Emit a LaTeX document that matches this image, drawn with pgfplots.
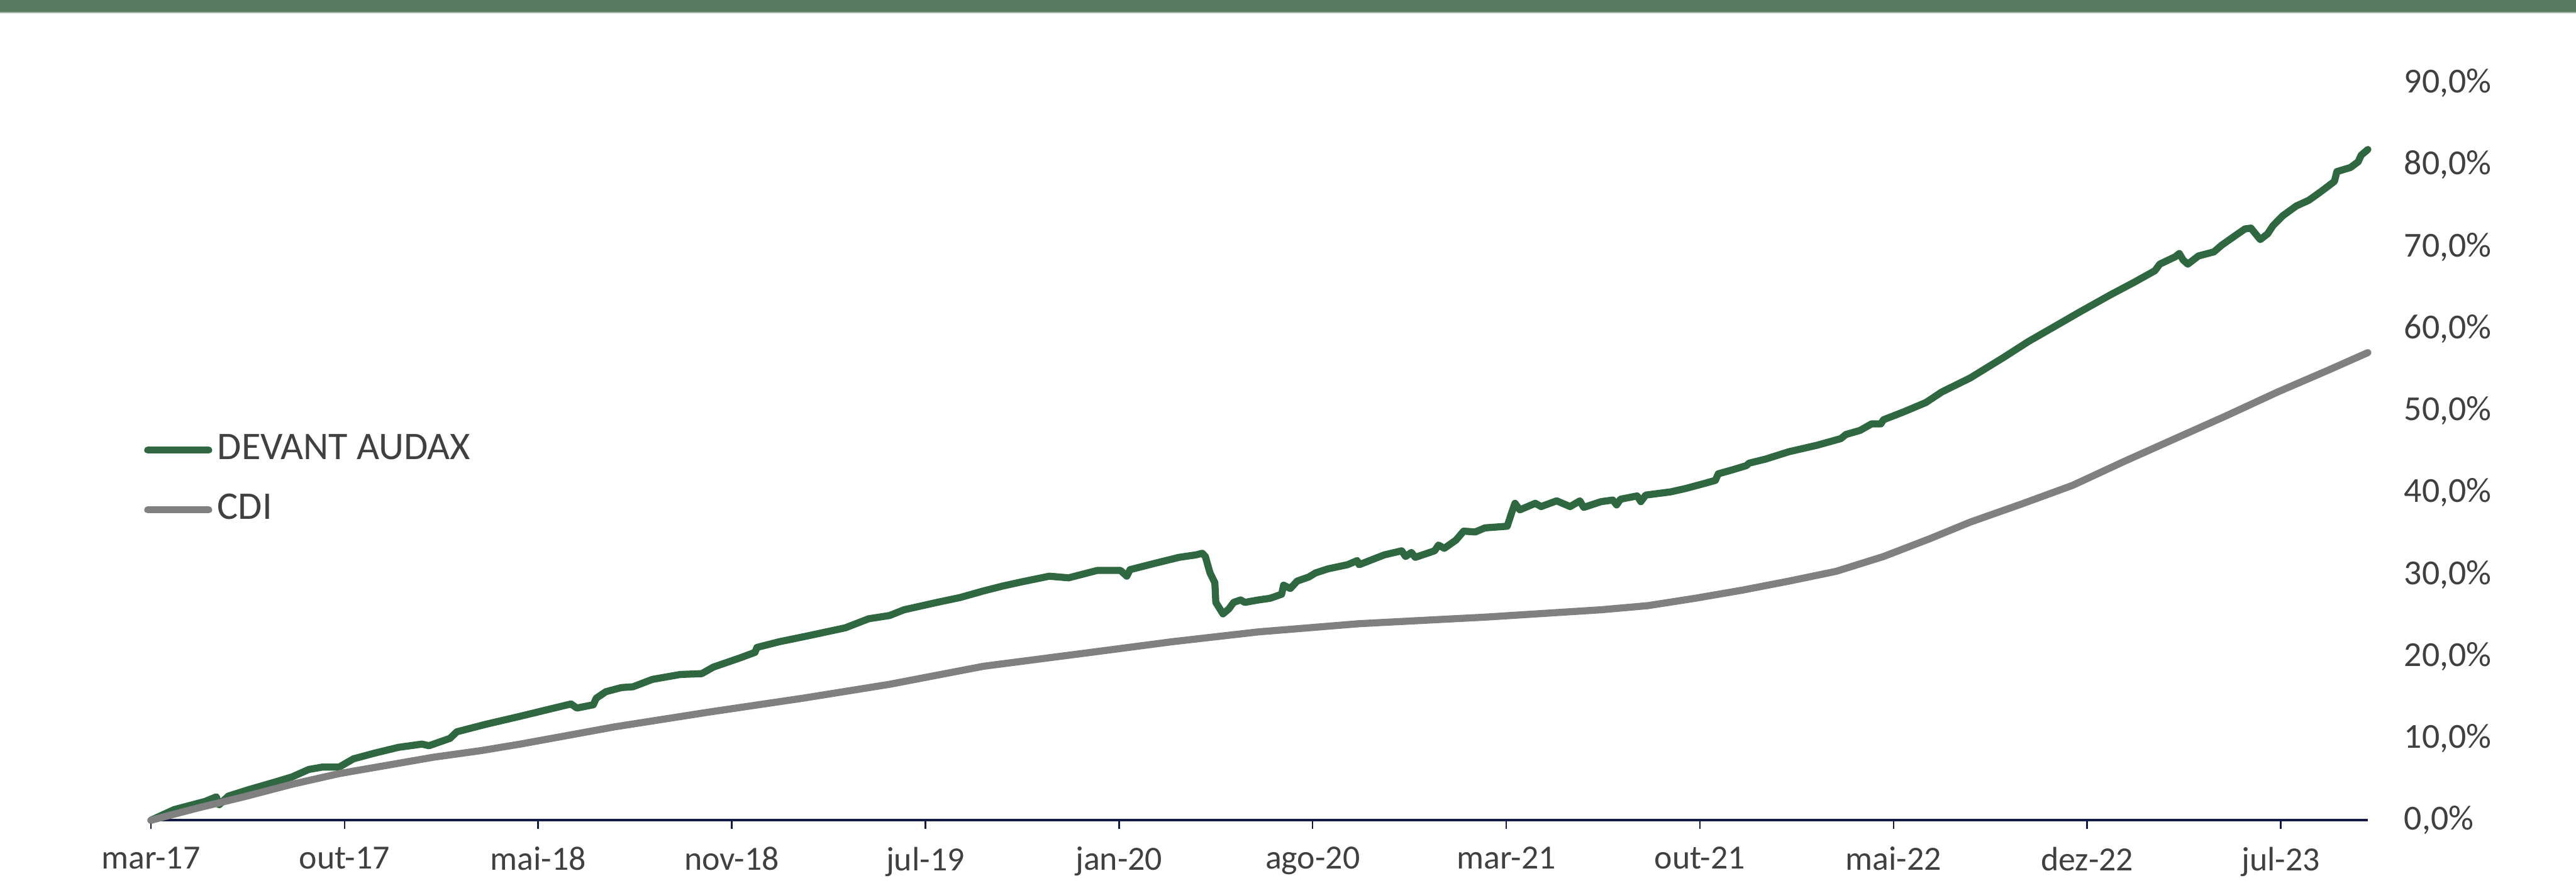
\documentclass[border=0pt]{standalone}
\usepackage{fontspec}
\setmainfont{Carlito}
\usepackage{pgfplots}
\pgfplotsset{compat=1.18}
\definecolor{band}{RGB}{88,122,95}
\definecolor{bandlight}{RGB}{165,185,168}
\definecolor{fundgreen}{RGB}{47,104,64}
\definecolor{cdigray}{RGB}{128,128,128}
\definecolor{axisnavy}{RGB}{18,28,68}
\definecolor{txt}{RGB}{64,64,64}
\begin{document}
\begin{tikzpicture}
\useasboundingbox (0,0) rectangle (836.6pt,288.2pt);
\fill[white] (0,0) rectangle (836.6pt,288.2pt);
\fill[band] (0,284.4pt) rectangle (836.6pt,288.2pt);
\fill[bandlight] (0,284.0pt) rectangle (836.6pt,284.4pt);
\begin{axis}[
  at={(49pt,21.8pt)}, anchor=south west,
  scale only axis, width=720pt, height=239.4pt,
  xmin=0, xmax=11.45, ymin=0, ymax=90,
  axis x line*=bottom, axis y line*=right,
  x axis line style={draw=axisnavy, line width=0.8pt, -},
  y axis line style={draw=none},
  xtick={0,...,11},
  xticklabels={mar-17,out-17,mai-18,nov-18,jul-19,jan-20,ago-20,mar-21,out-21,mai-22,dez-22,jul-23},
  xtick align=outside,
  ytick align=inside,
  major tick length=2.8pt,
  xtick style={draw=axisnavy, line width=0.5pt},
  ytick={0,10,...,90},
  yticklabels={{0,0\%},{10,0\%},{20,0\%},{30,0\%},{40,0\%},{50,0\%},{60,0\%},{70,0\%},{80,0\%},{90,0\%}},
  ytick style={draw=none},
  xticklabel style={font=\fontsize{11}{13}\selectfont, text=txt, inner sep=0pt, anchor=north, yshift=-5.7pt},
  yticklabel style={font=\fontsize{11.4}{13}\selectfont, text=txt, inner sep=0pt, anchor=west, xshift=11.6pt},
  clip=false,
  legend cell align=left,
  legend image code/.code={\draw[#1, line cap=round] (0pt,0pt) -- (19.8pt,0pt);},
  legend style={at={(axis description cs:-0.0033,0.4616)}, anchor=west, draw=none, fill=none,
    inner sep=0pt, row sep=7.4pt, font=\fontsize{12.7}{14}\selectfont, text=txt,
    nodes={inner sep=0pt, text height=9pt, text depth=3pt},
    /tikz/every odd column/.append style={column sep=1.7pt}},
]
\addplot[fundgreen, line width=2.3pt, line join=round, line cap=round] coordinates {
(0,0) (0.12,1.3) (0.28,2.3) (0.338,2.86) (0.353,1.9) (0.40,2.95) (0.50,3.7)
(0.646,4.7) (0.73,5.3) (0.815,6.2) (0.887,6.5) (0.973,6.5) (1.046,7.5) (1.156,8.2)
(1.278,8.9) (1.40,9.3) (1.436,9.1) (1.545,10.0) (1.58,10.8) (1.727,11.7) (1.908,12.7)
(2.03,13.4) (2.17,14.2) (2.20,13.7) (2.285,14.1) (2.30,14.9) (2.35,15.7) (2.43,16.2)
(2.49,16.3) (2.59,17.2) (2.735,17.8) (2.845,17.9) (2.905,18.7) (3.04,19.8) (3.12,20.5)
(3.13,21.1) (3.246,21.8) (3.39,22.5) (3.587,23.5) (3.707,24.6) (3.815,25.0) (3.89,25.7)
(4.06,26.6) (4.18,27.2) (4.30,28.0) (4.40,28.6) (4.496,29.1) (4.64,29.8) (4.74,29.6)
(4.887,30.5) (5.008,30.5) (5.04,29.8) (5.057,30.6) (5.19,31.4) (5.31,32.1) (5.397,32.4)
(5.43,32.6) (5.446,32.2) (5.47,30.2) (5.495,29.0) (5.50,26.6) (5.537,25.2) (5.567,25.8)
(5.592,26.6) (5.628,26.9) (5.65,26.6) (5.72,26.9) (5.78,27.1) (5.84,27.6) (5.85,28.7)
(5.885,28.3) (5.92,29.2) (5.98,29.7) (6.015,30.2) (6.08,30.7) (6.18,31.2) (6.23,31.7)
(6.24,31.2) (6.37,32.4) (6.46,32.9) (6.48,32.2) (6.51,32.7) (6.53,32.1) (6.63,32.9)
(6.65,33.6) (6.68,33.2) (6.74,34.2) (6.78,35.3) (6.84,35.2) (6.89,35.7) (7.005,35.9)
(7.03,37.7) (7.045,38.7) (7.07,37.9) (7.15,38.7) (7.18,38.3) (7.26,39.0) (7.33,38.3)
(7.38,39.0) (7.40,38.2) (7.49,38.9) (7.55,39.1) (7.57,38.5) (7.59,39.2) (7.676,39.6)
(7.695,38.9) (7.72,39.7) (7.85,40.1) (7.925,40.5) (8.02,41.1) (8.08,41.5) (8.095,42.3)
(8.17,42.8) (8.24,43.3) (8.254,43.6) (8.34,44.1) (8.46,45.0) (8.534,45.4) (8.607,45.8)
(8.728,46.6) (8.754,47.1) (8.827,47.6) (8.887,48.4) (8.935,48.4) (8.948,48.9) (9.046,49.8)
(9.167,51.0) (9.25,52.3) (9.396,54.0) (9.568,56.5) (9.70,58.5) (9.833,60.3) (9.965,62.1)
(10.124,64.2) (10.244,65.7) (10.35,67.1) (10.375,67.9) (10.455,68.8) (10.476,69.2) (10.496,68.4)
(10.52,67.9) (10.575,68.9) (10.655,69.4) (10.694,70.2) (10.76,71.3) (10.815,72.2) (10.846,72.3)
(10.894,70.9) (10.932,71.6) (10.96,72.6) (11.01,73.8) (11.08,75.0) (11.145,75.7) (11.21,76.8)
(11.277,78.0) (11.29,79.2) (11.36,79.7) (11.40,80.4) (11.415,81.2) (11.45,81.9)
};
\addlegendentry{DEVANT AUDAX}
\addplot[cdigray, line width=2.3pt, line join=round, line cap=round] coordinates {
(0,0) (0.243,1.5) (0.487,2.9) (0.73,4.4) (0.973,5.7) (1.217,6.7) (1.46,7.7) (1.704,8.5)
(1.908,9.3) (2.394,11.4) (2.88,13.2) (3.367,14.9) (3.815,16.6) (4.30,18.8) (4.79,20.3)
(5.275,21.8) (5.72,23.0) (6.24,24.0) (6.89,24.8) (7.49,25.7) (7.73,26.2) (7.975,27.1)
(8.22,28.1) (8.46,29.2) (8.705,30.4) (8.948,32.2) (9.19,34.4) (9.396,36.4) (9.66,38.6)
(9.926,40.9) (10.19,43.8) (10.455,46.6) (10.72,49.4) (10.985,52.3) (11.25,55.0) (11.45,57.1)
};
\addlegendentry{CDI}
\end{axis}
\end{tikzpicture}
\end{document}
